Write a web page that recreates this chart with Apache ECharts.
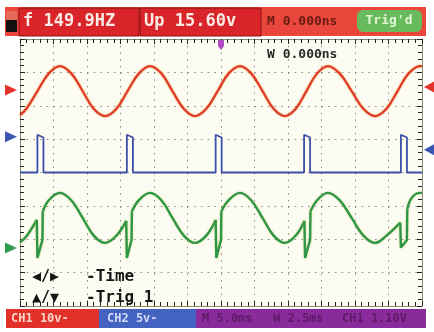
<!DOCTYPE html>
<html><head><meta charset="utf-8">
<script src="https://cdn.jsdelivr.net/npm/echarts@6/dist/echarts.min.js"></script>
<style>html,body{margin:0;padding:0;background:#fff}#c{width:434px;height:332px}</style>
</head><body><div id="c"></div><script>
// time in divisions (2.5 ms/div), level in divisions (centre = 0)
const ch1Wave = [[0,1.72],[0.19,1.91],[0.52,2.44],[0.86,2.97],[1.19,3.19],
  [1.53,2.97],[1.87,2.44],[2.2,1.91],[2.54,1.69],
  [2.88,1.91],[3.21,2.44],[3.55,2.97],[3.88,3.19],
  [4.22,2.97],[4.55,2.44],[4.89,1.91],[5.22,1.69],
  [5.56,1.91],[5.9,2.44],[6.23,2.97],[6.57,3.19],
  [6.9,2.97],[7.24,2.44],[7.57,1.91],[7.91,1.69],
  [8.23,1.91],[8.55,2.44],[8.87,2.97],[9.19,3.19],
  [9.54,2.97],[9.9,2.44],[10.25,1.91],[10.6,1.69],
  [10.94,1.91],[11.27,2.44],[11.6,2.97],[11.94,3.19],[12,3.18]];
const ch2Pulse = [[0,0],[0.52,0],[0.52,1.13],[0.7,1.05],[0.7,0],
  [3.19,0],[3.19,1.13],[3.37,1.05],[3.37,0],
  [5.84,0],[5.84,1.13],[6.02,1.05],[6.02,0],
  [8.48,0],[8.48,1.13],[8.66,1.05],[8.66,0],
  [11.37,0],[11.37,1.13],[11.55,1.05],[11.55,0],[12,0]];
// channel 3: smooth arcs between the glitches
const ch3Arcs = [
  [[0,-2.09],[0.2,-1.9],[0.5,-1.42]],
  [[0.68,-1.17],[0.86,-0.83],[1.19,-0.61],[1.53,-0.83],[1.87,-1.36],[2.2,-1.89],[2.54,-2.11],[2.88,-1.89],[3.17,-1.45]],
  [[3.34,-1.17],[3.55,-0.83],[3.88,-0.61],[4.22,-0.83],[4.55,-1.36],[4.89,-1.89],[5.22,-2.11],[5.56,-1.89],[5.84,-1.42]],
  [[6.01,-1.17],[6.23,-0.83],[6.57,-0.61],[6.9,-0.83],[7.24,-1.36],[7.57,-1.89],[7.91,-2.11],[8.23,-1.89],[8.49,-1.45]],
  [[8.67,-1.17],[8.87,-0.83],[9.19,-0.61],[9.54,-0.83],[9.9,-1.36],[10.25,-1.89],[10.6,-2.11],[10.94,-1.89],[11.35,-1.5]],
  [[11.56,-1.1],[11.7,-0.75],[11.94,-0.61],[12,-0.62]]
];
// channel 3: the glitches (drop, short ramp, jump back)
const ch3Glitches = [
  [[0.5,-1.42],[0.52,-2.56],[0.67,-2.02],[0.68,-1.17]],
  [[3.17,-1.45],[3.19,-2.56],[3.33,-2.02],[3.34,-1.17]],
  [[5.84,-1.42],[5.86,-2.56],[6.0,-2.02],[6.01,-1.17]],
  [[8.49,-1.45],[8.51,-2.56],[8.66,-2.02],[8.67,-1.17]],
  [[11.35,-1.5],[11.37,-2.25],[11.55,-2.02],[11.56,-1.1]]
];
const headerLabels = ['f 149.9HZ', 'Up 15.60v', 'M 0.000ns', "Trig'd"];
const footerLabels = ['CH1 10v-', 'CH2 5v-', 'M 5.0ms', 'W 2.5ms', 'CH1 1.10V'];
const screenLabels = ['W 0.000ns', '◀/▶', '-Time', '▲/▼', '-Trig 1'];
const leftMarkerLevels = [2.47, 1.07, -2.26];
const rightMarkerLevels = [2.56, 0.68];
const triggerTime = 6;

function joinWithGaps(parts) {
  const out = [];
  parts.forEach(function (p, i) { if (i) out.push([null, null]); p.forEach(function (q) { out.push(q); }); });
  return out;
}

const chart = echarts.init(document.getElementById('c'), null, {renderer: 'canvas'});
const mono = '"DejaVu Sans Mono", monospace';
function axisCommon(split) {
  return {
    type: 'value', min: 0, interval: 1,
    axisLine: {show: true, onZero: false, lineStyle: {color: '#8a8a70', width: 1}},
    axisTick: {show: true, inside: true, length: 5, lineStyle: {color: '#222', width: 1}},
    minorTick: {show: true, splitNumber: 5, length: 4, lineStyle: {color: '#222', width: 1}},
    axisLabel: {show: false},
    splitLine: {show: split, lineStyle: {color: '#8c8c8c', width: 1, type: [1.6, 5.1]}}
  };
}
const xa0 = Object.assign(axisCommon(true), {max: 12, position: 'bottom'});
const xa1 = Object.assign(axisCommon(false), {max: 12, position: 'top'});
const ya0 = Object.assign(axisCommon(true), {min: -4, max: 4, position: 'left'});
const ya1 = Object.assign(axisCommon(false), {min: -4, max: 4, position: 'right'});

const greenStyle = {color: '#2e9648', width: 2.4, shadowColor: 'rgba(200,200,60,0.6)', shadowBlur: 2};
chart.setOption({
  animation: false,
  backgroundColor: '#ffffff',
  grid: {left: 20, right: 12, top: 39, bottom: 26, show: true, backgroundColor: '#fcfcf3', borderWidth: 0},
  xAxis: [xa0, xa1],
  yAxis: [ya0, ya1],
  series: [
    {type: 'line', data: ch1Wave, smooth: 0.4, showSymbol: false, z: 3,
      lineStyle: {color: '#e03c2c', width: 2.3, shadowColor: 'rgba(240,170,60,0.8)', shadowBlur: 2}},
    {type: 'line', data: ch2Pulse, smooth: false, showSymbol: false, z: 2,
      lineStyle: {color: '#3d4fa6', width: 1.8}},
    {type: 'line', data: joinWithGaps(ch3Arcs), smooth: 0.4, connectNulls: false, showSymbol: false, z: 3,
      lineStyle: greenStyle},
    {type: 'line', data: joinWithGaps(ch3Glitches), smooth: false, connectNulls: false, showSymbol: false, z: 3,
      lineStyle: greenStyle}
  ]
});

const g = [];
// header
g.push({type: 'rect', shape: {x: 5, y: 7, width: 421, height: 29}, style: {fill: '#e9473b'}});
g.push({type: 'rect', shape: {x: 6, y: 11, width: 11, height: 9}, style: {fill: '#e66a5a'}});
g.push({type: 'rect', shape: {x: 6, y: 20, width: 11, height: 12}, style: {fill: '#141010'}});
g.push({type: 'rect', shape: {x: 19, y: 8, width: 120, height: 28}, style: {fill: '#d9252a', stroke: '#8e1414', lineWidth: 1}});
g.push({type: 'rect', shape: {x: 140, y: 8, width: 121, height: 28}, style: {fill: '#d9252a', stroke: '#8e1414', lineWidth: 1}});
g.push({type: 'text', x: 23, y: 22, style: {text: headerLabels[0], fill: '#fbe9e3', font: 'bold 17px ' + mono, verticalAlign: 'middle'}});
g.push({type: 'text', x: 144, y: 22, style: {text: headerLabels[1], fill: '#fbe9e3', font: 'bold 17px ' + mono, verticalAlign: 'middle'}});
g.push({type: 'text', x: 267, y: 22, style: {text: headerLabels[2], fill: '#6a1c14', font: 'bold 13px ' + mono, verticalAlign: 'middle'}});
g.push({type: 'rect', shape: {x: 357, y: 10, width: 65, height: 22, r: 6}, style: {fill: '#67bb5d'}});
g.push({type: 'text', x: 389, y: 21, style: {text: headerLabels[3], fill: '#e4f5d6', font: 'bold 13px ' + mono, align: 'center', verticalAlign: 'middle'}});
// footer
g.push({type: 'rect', shape: {x: 6, y: 309, width: 93, height: 19}, style: {fill: '#e2302a'}});
g.push({type: 'rect', shape: {x: 99, y: 309, width: 97, height: 19}, style: {fill: '#4462c0'}});
g.push({type: 'rect', shape: {x: 196, y: 309, width: 230, height: 19}, style: {fill: '#8a2b9b'}});
g.push({type: 'text', x: 11, y: 319, style: {text: footerLabels[0], fill: '#fad6c8', font: 'bold 12px ' + mono, verticalAlign: 'middle'}});
g.push({type: 'text', x: 107, y: 319, style: {text: footerLabels[1], fill: '#d2daf6', font: 'bold 12px ' + mono, verticalAlign: 'middle'}});
g.push({type: 'text', x: 202, y: 319, style: {text: footerLabels[2], fill: '#5e1a66', font: 'bold 12px ' + mono, verticalAlign: 'middle'}});
g.push({type: 'text', x: 273, y: 319, style: {text: footerLabels[3], fill: '#5e1a66', font: 'bold 12px ' + mono, verticalAlign: 'middle'}});
g.push({type: 'text', x: 342, y: 319, style: {text: footerLabels[4], fill: '#5e1a66', font: 'bold 12px ' + mono, verticalAlign: 'middle'}});
// screen texts
g.push({type: 'text', x: 267, y: 55, z: 10, style: {text: screenLabels[0], fill: '#2a2a2a', font: 'bold 13px ' + mono, verticalAlign: 'middle'}});
g.push({type: 'text', x: 32, y: 277, z: 10, style: {text: screenLabels[1], fill: '#151515', font: 'bold 15px ' + mono, verticalAlign: 'middle'}});
g.push({type: 'text', x: 86, y: 277, z: 10, style: {text: screenLabels[2], fill: '#151515', font: 'bold 16px ' + mono, verticalAlign: 'middle'}});
g.push({type: 'text', x: 32, y: 298, z: 10, style: {text: screenLabels[3], fill: '#151515', font: 'bold 15px ' + mono, verticalAlign: 'middle'}});
g.push({type: 'text', x: 86, y: 298, z: 10, style: {text: screenLabels[4], fill: '#151515', font: 'bold 16px ' + mono, verticalAlign: 'middle'}});
// channel markers
const leftColors = ['#e2332a', '#3d55b0', '#2e9a4c'];
leftMarkerLevels.forEach(function (lv, i) {
  const p = chart.convertToPixel({xAxisIndex: 0, yAxisIndex: 0}, [0, lv]);
  g.push({type: 'polygon', shape: {points: [[p[0] - 15, p[1] - 5.5], [p[0] - 3, p[1]], [p[0] - 15, p[1] + 5.5]]}, style: {fill: leftColors[i]}});
});
const rightColors = ['#e2332a', '#3d55b0'];
rightMarkerLevels.forEach(function (lv, i) {
  const p = chart.convertToPixel({xAxisIndex: 0, yAxisIndex: 0}, [12, lv]);
  g.push({type: 'polygon', shape: {points: [[p[0] + 12, p[1] - 5.5], [p[0] + 2, p[1]], [p[0] + 12, p[1] + 5.5]]}, style: {fill: rightColors[i]}});
});
const tp = chart.convertToPixel({xAxisIndex: 0, yAxisIndex: 0}, [triggerTime, 4]);
g.push({type: 'polygon', z: 10, shape: {points: [[tp[0] - 3, tp[1] + 1], [tp[0] + 3, tp[1] + 1], [tp[0] + 3, tp[1] + 7], [tp[0], tp[1] + 11], [tp[0] - 3, tp[1] + 7]]}, style: {fill: '#b048c2'}});
chart.setOption({graphic: g});
</script></body></html>
